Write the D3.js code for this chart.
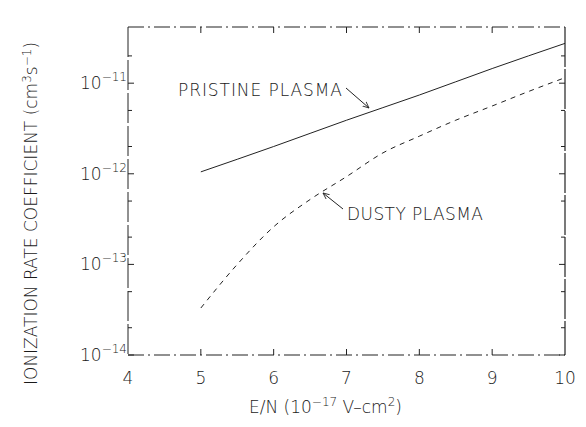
<!DOCTYPE html>
<html>
<head>
<meta charset="utf-8">
<script src="https://cdn.jsdelivr.net/npm/d3@7"></script>
<style>
  body { margin: 0; background: #fff; }
  text { font-family: "DejaVu Sans", sans-serif; font-weight: 200; fill: #1a1a1a; }
</style>
</head>
<body>
<div id="chart"></div>
<script>
// E/N values (10^-17 V-cm^2)
var en_pristine = [5, 6, 7, 8, 9, 10];
var k_pristine = [1.05e-12, 2.0e-12, 3.9e-12, 7.4e-12, 1.45e-11, 2.75e-11];

var en_dusty = [5, 5.5, 6, 6.5, 7, 7.5, 8, 8.5, 9, 9.5, 10];
var k_dusty = [3.3e-14, 1.0e-13, 2.6e-13, 5.2e-13, 9.3e-13, 1.7e-12, 2.6e-12, 3.9e-12, 5.6e-12, 8.1e-12, 1.15e-11];

var xticks = [4, 5, 6, 7, 8, 9, 10];
var ydecades = [-14, -13, -12, -11];
var yminor = [2e-14, 5e-14, 2e-13, 5e-13, 2e-12, 5e-12, 2e-11];

var width = 586, height = 427;
var pl = 128, pr = 565, pt = 27, pb = 355;

var svg = d3.select("#chart").append("svg")
    .attr("width", width)
    .attr("height", height);

var x = d3.scaleLinear().domain([4, 10]).range([pl, pr]);
var y = d3.scaleLog().domain([1e-14, Math.pow(10, -10.38)]).range([pb, pt]);

// frame, drawn the way the scan looks: dash-dot top & bottom
var frame = svg.append("g").style("stroke", "#222").style("fill", "none");
frame.append("line").attr("x1", pl).attr("x2", pr).attr("y1", pb).attr("y2", pb)
    .style("stroke-width", 1.2).style("stroke-dasharray", "16,4,2,4");
frame.append("line").attr("x1", pl).attr("x2", pr).attr("y1", pt).attr("y2", pt)
    .style("stroke-width", 1.2).style("stroke-dasharray", "16,4,2,4");
frame.append("line").attr("x1", pl).attr("x2", pl).attr("y1", pt).attr("y2", pb)
    .style("stroke-width", 1).style("stroke-dasharray", "30,3");
frame.append("line").attr("x1", pr).attr("x2", pr).attr("y1", pt).attr("y2", pb)
    .style("stroke-width", 1.2).style("stroke-dasharray", "40,2");

// x ticks (bottom and top, inward)
xticks.slice(1, -1).forEach(function(v) {
  frame.append("line").attr("x1", x(v)).attr("x2", x(v)).attr("y1", pb).attr("y2", pb - 6);
  frame.append("line").attr("x1", x(v)).attr("x2", x(v)).attr("y1", pt).attr("y2", pt + 6);
});
svg.selectAll(".xlab")
  .data(xticks)
  .enter().append("text")
    .attr("class", "xlab")
    .attr("x", function(d) { return x(d); })
    .attr("y", pb + 29)
    .attr("text-anchor", "middle")
    .style("font-size", "17px")
    .text(function(d) { return d; });

// y ticks, major and minor, both sides
ydecades.forEach(function(e) {
  var yy = y(Math.pow(10, e));
  frame.append("line").attr("x1", pl).attr("x2", pl + 6).attr("y1", yy).attr("y2", yy);
  frame.append("line").attr("x1", pr).attr("x2", pr - 6).attr("y1", yy).attr("y2", yy);
  var t = svg.append("text")
    .attr("x", 80)
    .attr("y", yy + 6)
    .style("font-size", "17px")
    .text("10");
  t.append("tspan")
    .attr("dy", -8)
    .style("font-size", "12px")
    .text(String(e).replace("-", "\u2212"));
});
yminor.forEach(function(v) {
  frame.append("line").attr("x1", pl).attr("x2", pl + 4).attr("y1", y(v)).attr("y2", y(v));
  frame.append("line").attr("x1", pr).attr("x2", pr - 4).attr("y1", y(v)).attr("y2", y(v));
});

// curves
var line = d3.line()
    .x(function(d) { return x(d[0]); })
    .y(function(d) { return y(d[1]); })
    .curve(d3.curveMonotoneX);

svg.append("path")
  .datum(d3.zip(en_pristine, k_pristine))
  .attr("d", line)
  .style("fill", "none")
  .style("stroke", "#222")
  .style("stroke-width", 1);

svg.append("path")
  .datum(d3.zip(en_dusty, k_dusty))
  .attr("d", line)
  .style("fill", "none")
  .style("stroke", "#222")
  .style("stroke-width", 1)
  .style("stroke-dasharray", "5,5");

// labels with arrows
svg.append("defs").append("marker")
    .attr("id", "head")
    .attr("viewBox", "0 0 10 10")
    .attr("refX", 9).attr("refY", 5)
    .attr("markerWidth", 7).attr("markerHeight", 7)
    .attr("orient", "auto")
  .append("path")
    .attr("d", "M0,1 L9,5 L0,9")
    .style("fill", "none")
    .style("stroke", "#222")
    .style("stroke-width", 1.2);

svg.append("text")
  .attr("x", 178).attr("y", 96)
  .style("font-size", "17px")
  .attr("textLength", 164)
  .text("PRISTINE PLASMA");
svg.append("line")
  .attr("x1", 346).attr("y1", 88).attr("x2", 369).attr("y2", 108)
  .style("stroke", "#222").style("stroke-width", 1)
  .attr("marker-end", "url(#head)");

svg.append("text")
  .attr("x", 347).attr("y", 220)
  .style("font-size", "17px")
  .attr("textLength", 136)
  .text("DUSTY PLASMA");
svg.append("line")
  .attr("x1", 343).attr("y1", 209).attr("x2", 323).attr("y2", 193)
  .style("stroke", "#222").style("stroke-width", 1)
  .attr("marker-end", "url(#head)");

// axis titles
var xt = svg.append("text")
  .attr("x", 249).attr("y", 413)
  .style("font-size", "17px")
  .text("E/N (10");
xt.append("tspan").attr("dy", -7).style("font-size", "12px").text("\u221217");
xt.append("tspan").attr("dy", 7).text(" V\u2013cm");
xt.append("tspan").attr("dy", -7).style("font-size", "12px").text("2");
xt.append("tspan").attr("dy", 7).text(")");

var yt = svg.append("text")
  .attr("transform", "translate(37," + 385 + ") rotate(-90)")
  .style("font-size", "17px")
  .text("IONIZATION RATE COEFFICIENT (cm");
yt.append("tspan").attr("dy", -6).style("font-size", "12px").text("3");
yt.append("tspan").attr("dy", 6).text("s");
yt.append("tspan").attr("dy", -6).style("font-size", "12px").text("\u22121");
yt.append("tspan").attr("dy", 6).text(")");
</script>
</body>
</html>
